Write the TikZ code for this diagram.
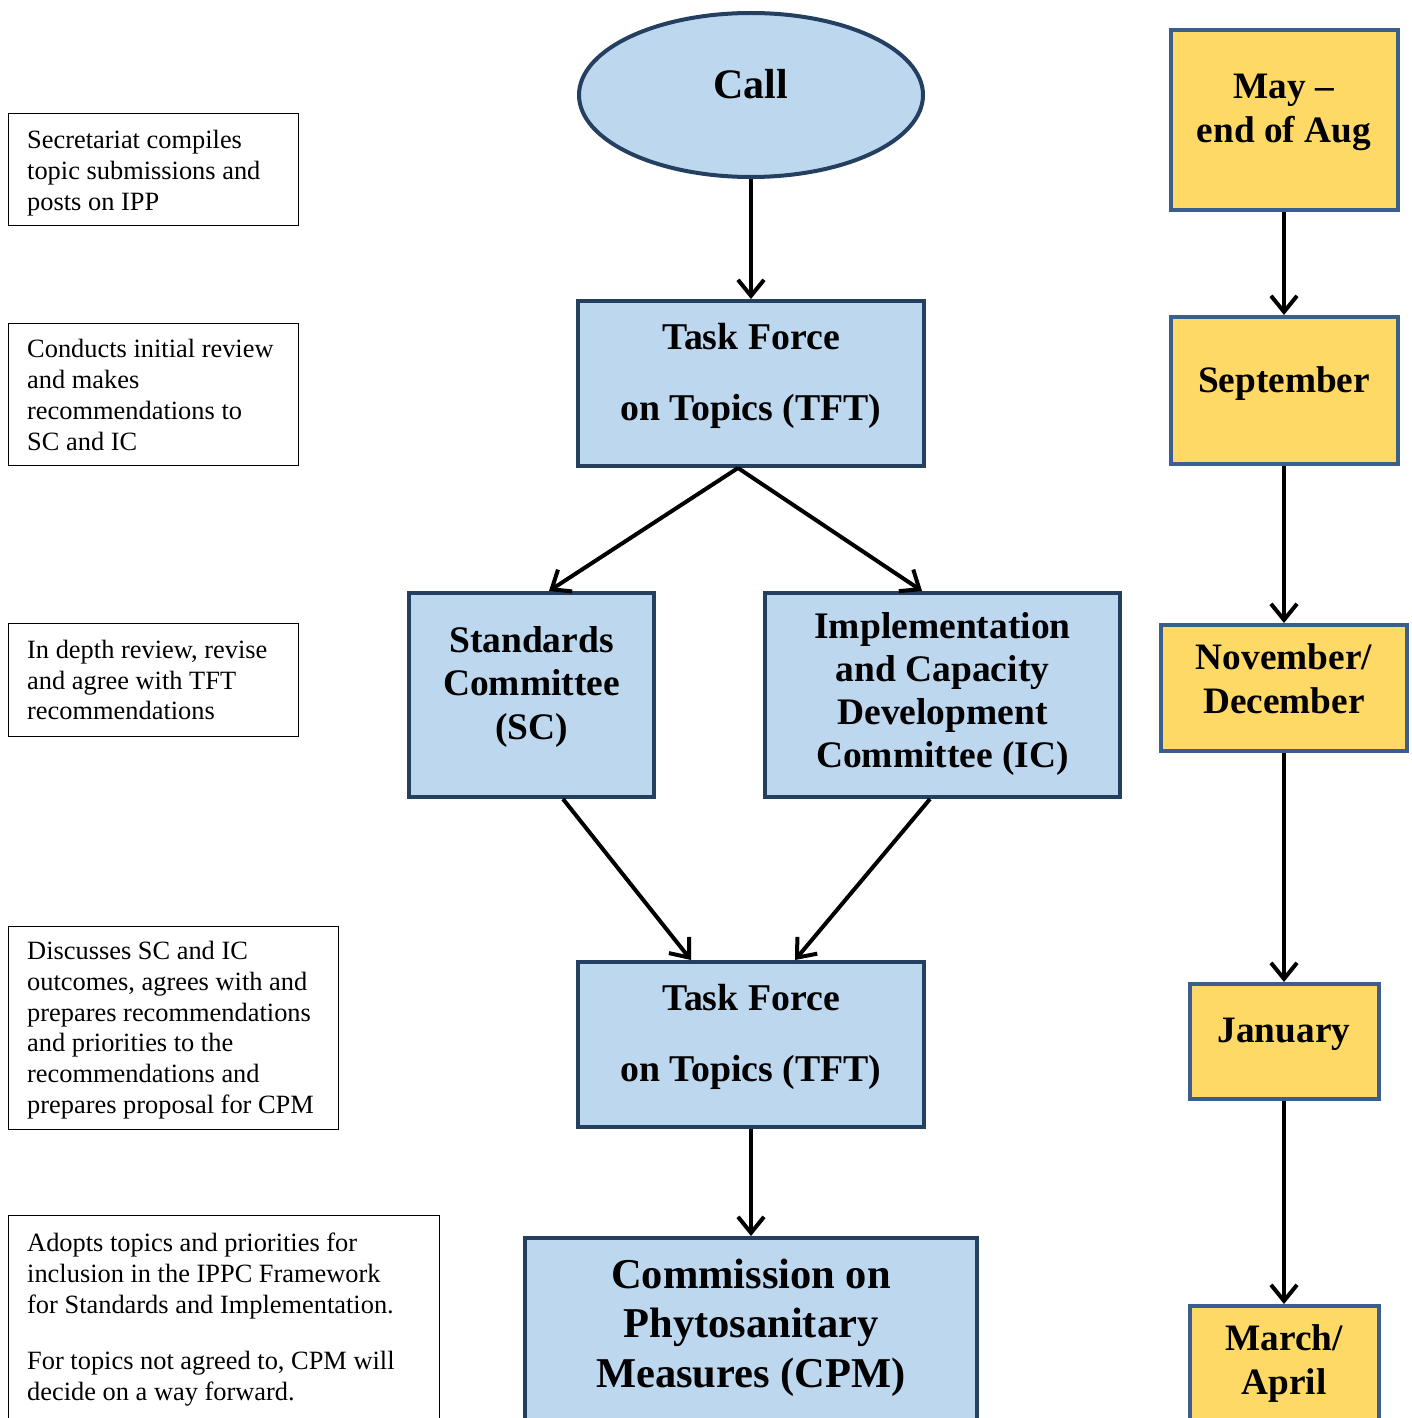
\documentclass[tikz,border=0pt]{standalone}
\usepackage{fontspec}
\setmainfont{LiberationSerif}[Extension=.ttf, UprightFont=*-Regular, BoldFont=*-Bold, ItalicFont=*-Italic, BoldItalicFont=*-BoldItalic]
\usetikzlibrary{shapes.geometric,arrows.meta,calc}
\definecolor{boxblue}{HTML}{BDD7EE}
\definecolor{navy}{HTML}{243F60}
\definecolor{gold}{HTML}{FFD966}
\definecolor{goldedge}{HTML}{3A5F8F}
\begin{document}
\begin{tikzpicture}[x=1pt,y=-1pt,
  bluebox/.style={draw=navy, fill=boxblue, line width=4pt, rectangle, inner sep=0pt},
  goldbox/.style={draw=goldedge, fill=gold, line width=4pt, rectangle, inner sep=0pt},
  notebox/.style={draw=black, line width=1pt, rectangle, inner sep=0pt},
  notetext/.style={anchor=west, inner sep=0pt, align=left,
    font=\fontsize{26.4}{30.7}\selectfont},
  flow/.style={-{Straight Barb[length=16pt,width=26pt]}, line width=4pt},
  boldtext/.style={align=center, inner sep=0pt}
]
\useasboundingbox (0,0) rectangle (1411,1418);
\clip (0,0) rectangle (1411,1418);

% ---------- left notes ----------
\node[notebox, minimum width=290pt, minimum height=111pt] (n1) at (153,169.5) {};
\node[notetext] (n1t) at (27,173) {Secretariat compiles\\topic submissions and\\posts on IPP};
\node[notebox, minimum width=290pt, minimum height=142pt] (n2) at (153,394) {};
\node[notetext] (n2t) at (27,395) {Conducts initial review\\and makes\\recommendations to\\SC and IC};
\node[notebox, minimum width=290pt, minimum height=113pt] (n3) at (153,679.5) {};
\node[notetext] (n3t) at (27,680) {In depth review, revise\\and agree with TFT\\recommendations};
\node[notebox, minimum width=330pt, minimum height=203pt] (n4) at (173,1027.5) {};
\node[notetext] (n4t) at (27,1030) {Discusses SC and IC\\outcomes, agrees with and\\prepares recommendations\\and priorities to the\\recommendations and\\prepares proposal for CPM};
\node[notebox, minimum width=431pt, minimum height=210pt] (n5) at (223.5,1320) {};
\node[notetext] (n5t) at (27,1319.5) {Adopts topics and priorities for\\inclusion in the IPPC Framework\\for Standards and Implementation.\\[25.3pt]For topics not agreed to, CPM will\\decide on a way forward.};

% ---------- centre flow ----------
\node[ellipse, draw=navy, fill=boxblue, line width=4pt, minimum width=344pt, minimum height=164pt, inner sep=0pt] (call) at (751,95) {};
\node[boldtext, font=\bfseries\fontsize{42}{50}\selectfont] (callt) at (751,84) {Call};

\node[bluebox, minimum width=346pt, minimum height=165pt] (tft1) at (751,383.5) {};
\node[boldtext, font=\bfseries\fontsize{37.8}{71}\selectfont] (tft1t) at (751,375.5) {Task Force\\on Topics (TFT)};

\node[bluebox, minimum width=245pt, minimum height=204pt] (sc) at (531.5,695) {};
\node[boldtext, font=\bfseries\fontsize{37.5}{43.5}\selectfont] (sct) at (531.5,686.5) {Standards\\Committee\\(SC)};

\node[bluebox, minimum width=355pt, minimum height=204pt] (ic) at (942.5,695) {};
\node[boldtext, font=\bfseries\fontsize{37.5}{43}\selectfont] (ict) at (942.5,693.5) {Implementation\\and Capacity\\Development\\Committee (IC)};

\node[bluebox, minimum width=346pt, minimum height=165pt] (tft2) at (751,1044.5) {};
\node[boldtext, font=\bfseries\fontsize{37.8}{71}\selectfont] (tft2t) at (751,1036.5) {Task Force\\on Topics (TFT)};

\node[bluebox, minimum width=452pt, minimum height=262pt] (cpm) at (751,1369) {};
\node[boldtext, font=\bfseries\fontsize{42.5}{49.5}\selectfont] (cpmt) at (751,1327.7) {Commission on\\Phytosanitary\\Measures (CPM)};

\draw[flow] (call.south) -- (tft1.north);
\coordinate (tft1o) at ([xshift=-13pt]tft1.south);
\draw[flow] (tft1o) -- ([xshift=142pt]sc.north west);
\draw[flow] (tft1o) -- ([xshift=159pt]ic.north west);
\draw[flow] ([xshift=156pt]sc.south west) -- ([xshift=115pt]tft2.north west);
\draw[flow] ([xshift=167pt]ic.south west) -- ([xshift=219pt]tft2.north west);
\draw[flow] (tft2.south) -- (cpm.north);

% ---------- right timeline ----------
\node[goldbox, minimum width=227pt, minimum height=180pt] (may) at (1284,120) {};
\node[boldtext, font=\bfseries\fontsize{37.3}{44}\selectfont] (mayt) at (1284,112.7) {May --\\end of Aug};

\node[goldbox, minimum width=227pt, minimum height=147pt] (sep) at (1284,390.5) {};
\node[boldtext, font=\bfseries\fontsize{37.3}{44}\selectfont] (sept) at (1284,383.4) {September};

\node[goldbox, minimum width=246pt, minimum height=126pt] (nov) at (1284,688) {};
\node[boldtext, font=\bfseries\fontsize{37.3}{44}\selectfont] (novt) at (1284,678.8) {November/\\December};

\node[goldbox, minimum width=189pt, minimum height=115pt] (jan) at (1284,1041.5) {};
\node[boldtext, font=\bfseries\fontsize{37.3}{44}\selectfont] (jant) at (1284,1034.7) {January};

\node[goldbox, minimum width=189pt, minimum height=194pt] (mar) at (1284,1403) {};
\node[boldtext, font=\bfseries\fontsize{37.3}{44}\selectfont] (mart) at (1284,1364) {March/\\April};

\draw[flow] (may.south) -- (sep.north);
\draw[flow] (sep.south) -- (nov.north);
\draw[flow] (nov.south) -- (jan.north);
\draw[flow] (jan.south) -- (mar.north);
\end{tikzpicture}
\end{document}
